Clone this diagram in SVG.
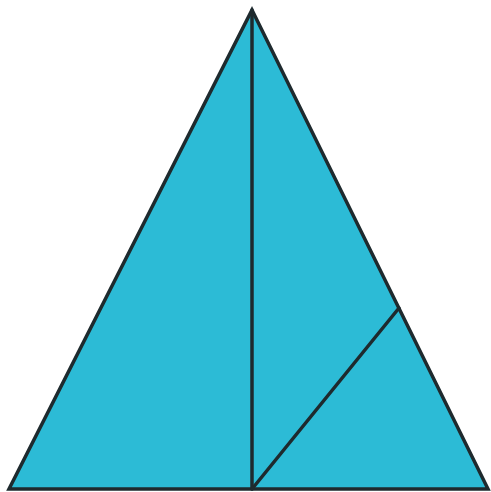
<svg xmlns="http://www.w3.org/2000/svg" width="491" height="492" viewBox="0 0 491 492">
<style>
.s{fill:none;stroke:#1e2a2e;stroke-width:3.5;stroke-linejoin:miter;stroke-linecap:round}
</style>
<rect width="491" height="492" fill="#ffffff"/>
<g id="triangle">
<polygon points="252,10 488,489 9,489" class="s" style="fill:#2cbbd6"/>
</g>
<g id="lines">
<line x1="252" y1="10" x2="252" y2="489" class="s"/>
<line x1="252" y1="489" x2="399" y2="308" class="s"/>
</g>
</svg>
